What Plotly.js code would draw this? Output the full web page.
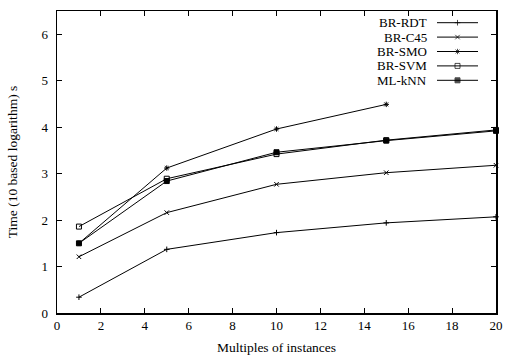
<!DOCTYPE html>
<html>
<head>
<meta charset="utf-8">
<script src="https://cdn.plot.ly/plotly-3.0.1.min.js"></script>
<style>html,body{margin:0;padding:0;background:#fff;}#chart{width:506px;height:358px;}</style>
</head>
<body>
<div id="chart"></div>
<script>
// Data
const xMultiples = [1, 5, 10, 15, 20];
const seriesNames = ["BR-RDT", "BR-C45", "BR-SMO", "BR-SVM", "ML-kNN"];
const brRDT = [0.34, 1.37, 1.73, 1.94, 2.07];
const brC45 = [1.21, 2.16, 2.77, 3.02, 3.18];
const brSMO = [1.50, 3.12, 3.96, 4.49];
const brSVM = [1.86, 2.89, 3.42, 3.72, 3.94];
const mlKNN = [1.50, 2.84, 3.46, 3.71, 3.92];
const seriesValues = [brRDT, brC45, brSMO, brSVM, mlKNN];
const xTicks = [0, 2, 4, 6, 8, 10, 12, 14, 16, 18, 20];
const yTicks = [0, 1, 2, 3, 4, 5, 6];

// Styles
const symbols = ["cross-thin-open", "x-thin-open", "asterisk-open", "square-open", "square"];
const sizes = [4, 4.5, 4.5, 5, 5];
const font = "Liberation Serif, Times New Roman, serif";

const traces = [];
seriesNames.forEach((name, i) => {
  const ys = seriesValues[i];
  traces.push({
    x: xMultiples.slice(0, ys.length), y: ys, name: name,
    type: "scatter", mode: "lines+markers",
    line: {color: "#000", width: 1},
    marker: {symbol: symbols[i], size: sizes[i], color: "#000", line: {color: "#000", width: 1}},
    showlegend: false, cliponaxis: false
  });
});

// Manual legend (text left of sample, gnuplot style) on a pixel-like overlay axis
const legRowY0 = 22.7, legRowDy = 14.4;
const legLineX = [437, 478], legMarkX = 457.5, legTextX = 429;
const annotations = [];
seriesNames.forEach((name, i) => {
  const yy = legRowY0 + i * legRowDy;
  traces.push({
    x: [legLineX[0], legMarkX, legLineX[1]], y: [yy, yy, yy],
    xaxis: "x2", yaxis: "y2", type: "scatter", mode: "lines+markers",
    line: {color: "#000", width: 1},
    marker: {symbol: symbols[i], size: [0, sizes[i], 0], color: "#000", line: {color: "#000", width: 1}},
    showlegend: false, hoverinfo: "skip", cliponaxis: false
  });
  annotations.push({
    xref: "x2", yref: "y2", x: legTextX, y: yy, text: name, showarrow: false,
    xanchor: "right", yanchor: "middle", font: {family: font, size: 13, color: "#000"}
  });
});

const layout = {
  width: 506, height: 358,
  margin: {l: 57, r: 10, t: 11, b: 45},
  paper_bgcolor: "#fff", plot_bgcolor: "#fff",
  font: {family: font, size: 13, color: "#000"},
  showlegend: false,
  xaxis: {
    range: [0, 20], tickvals: xTicks, ticktext: xTicks.map(String),
    ticks: "inside", ticklen: 5, tickwidth: 1, tickcolor: "#000",
    showline: true, linecolor: "#000", linewidth: 1.5, mirror: "allticks",
    showgrid: false, zeroline: false,
    tickfont: {family: font, size: 13, color: "#000"},
    title: {text: "Multiples of instances", font: {family: font, size: 13.5, color: "#000"}, standoff: 10}
  },
  yaxis: {
    range: [0, 6.5], tickvals: yTicks, ticktext: yTicks.map(String),
    ticks: "inside", ticklen: 5, tickwidth: 1, tickcolor: "#000",
    showline: true, linecolor: "#000", linewidth: 1.5, mirror: "allticks",
    showgrid: false, zeroline: false, ticklabelstandoff: 5,
    tickfont: {family: font, size: 13, color: "#000"},
    title: {text: "Time (10 based logarithm) s", font: {family: font, size: 13.5, color: "#000"}, standoff: 20}
  },
  xaxis2: {range: [57, 496], overlaying: "x", anchor: "y2", visible: false, fixedrange: true},
  yaxis2: {range: [313, 11], overlaying: "y", anchor: "x2", visible: false, fixedrange: true},
  annotations: annotations
};

Plotly.newPlot("chart", traces, layout, {staticPlot: true, displayModeBar: false});
</script>
</body>
</html>
